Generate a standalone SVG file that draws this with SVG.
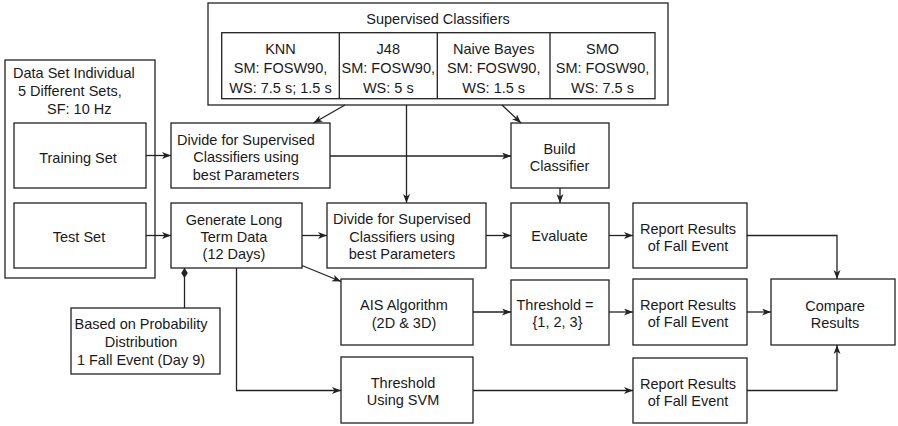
<svg xmlns="http://www.w3.org/2000/svg" width="898" height="426" viewBox="0 0 898 426">
  <style>
    .box { fill: #ffffff; stroke: #222222; stroke-width: 1.3; }
    .frame { fill: none; stroke: #222222; stroke-width: 1.3; }
    .lbl { font-family: "Liberation Sans", Arial, Helvetica, sans-serif; font-size: 14.5px; fill: #1a1a1a; text-anchor: middle; }
    .lbl-l { font-family: "Liberation Sans", Arial, Helvetica, sans-serif; font-size: 14.5px; fill: #1a1a1a; text-anchor: start; }
    .wire { fill: none; stroke: #222222; stroke-width: 1.3; }
    .arrow { marker-end: url(#head); }
  </style>
  <defs>
    <marker id="head" markerUnits="userSpaceOnUse" markerWidth="10" markerHeight="8" refX="9" refY="3.5" orient="auto">
      <path d="M0,0 L9,3.5 L0,7 L2.5,3.5 z" fill="#222222"/>
    </marker>
    <marker id="diamond" markerUnits="userSpaceOnUse" markerWidth="12" markerHeight="8" refX="10" refY="3.3" orient="auto">
      <path d="M0,3.3 L5,0 L10,3.3 L5,6.6 z" fill="#222222"/>
    </marker>
  </defs>

  <rect width="898" height="426" fill="#ffffff"/>

  <!-- classifier panel -->
  <g id="supervised-classifiers">
    <rect class="frame" x="208" y="3" width="460" height="102"/>
    <text class="lbl" x="438" y="23.5">Supervised Classifiers</text>
    <rect class="frame" x="221.7" y="32.7" width="433.3" height="66"/>
    <line class="wire" x1="339.3" y1="32.7" x2="339.3" y2="98.7"/>
    <line class="wire" x1="437.3" y1="32.7" x2="437.3" y2="98.7"/>
    <line class="wire" x1="550" y1="32.7" x2="550" y2="98.7"/>
    <g id="knn">
      <text class="lbl" x="280.5" y="53.5">KNN</text>
      <text class="lbl" x="280.5" y="73">SM: FOSW90,</text>
      <text class="lbl" x="280.5" y="92.5">WS: 7.5 s; 1.5 s</text>
    </g>
    <g id="j48">
      <text class="lbl" x="388.3" y="53.5">J48</text>
      <text class="lbl" x="388.3" y="73">SM: FOSW90,</text>
      <text class="lbl" x="388.3" y="92.5">WS: 5 s</text>
    </g>
    <g id="naive-bayes">
      <text class="lbl" x="493.7" y="53.5">Naive Bayes</text>
      <text class="lbl" x="493.7" y="73">SM: FOSW90,</text>
      <text class="lbl" x="493.7" y="92.5">WS: 1.5 s</text>
    </g>
    <g id="smo">
      <text class="lbl" x="602.5" y="53.5">SMO</text>
      <text class="lbl" x="602.5" y="73">SM: FOSW90,</text>
      <text class="lbl" x="602.5" y="92.5">WS: 7.5 s</text>
    </g>
  </g>

  <!-- data set panel -->
  <g id="data-set">
    <rect class="frame" x="5" y="60" width="150" height="218"/>
    <text class="lbl-l" x="13" y="78">Data Set Individual</text>
    <text class="lbl-l" x="18" y="96">5 Different Sets,</text>
    <text class="lbl-l" x="47" y="113.5">SF: 10 Hz</text>
  </g>
  <g id="training-set">
    <rect class="box" x="14" y="123" width="132" height="65"/>
    <text class="lbl" x="78" y="162.5">Training Set</text>
  </g>
  <g id="test-set">
    <rect class="box" x="14" y="203" width="132" height="65"/>
    <text class="lbl" x="79" y="242">Test Set</text>
  </g>

  <g id="divide-train">
    <rect class="box" x="171" y="123" width="159" height="65"/>
    <text class="lbl" x="246" y="144.5">Divide for Supervised</text>
    <text class="lbl" x="246" y="162">Classifiers using</text>
    <text class="lbl" x="246" y="179.5">best Parameters</text>
  </g>
  <g id="generate">
    <rect class="box" x="171" y="203" width="131" height="65"/>
    <text class="lbl" x="234" y="225">Generate Long</text>
    <text class="lbl" x="234" y="242">Term Data</text>
    <text class="lbl" x="234" y="259">(12 Days)</text>
  </g>
  <g id="divide-test">
    <rect class="box" x="327" y="203" width="159" height="65"/>
    <text class="lbl" x="402" y="224">Divide for Supervised</text>
    <text class="lbl" x="402" y="241.5">Classifiers using</text>
    <text class="lbl" x="402" y="259">best Parameters</text>
  </g>
  <g id="build-classifier">
    <rect class="box" x="511" y="123" width="98" height="65"/>
    <text class="lbl" x="559.5" y="153.5">Build</text>
    <text class="lbl" x="559.5" y="170.5">Classifier</text>
  </g>
  <g id="evaluate">
    <rect class="box" x="511" y="203" width="98" height="65"/>
    <text class="lbl" x="559.5" y="241">Evaluate</text>
  </g>
  <g id="report-1">
    <rect class="box" x="633" y="203" width="114" height="65"/>
    <text class="lbl" x="688" y="233.5">Report Results</text>
    <text class="lbl" x="688" y="250.5">of Fall Event</text>
  </g>
  <g id="ais">
    <rect class="box" x="341" y="279" width="132" height="66"/>
    <text class="lbl" x="404" y="310">AIS Algorithm</text>
    <text class="lbl" x="404" y="328">(2D &amp; 3D)</text>
  </g>
  <g id="threshold-set">
    <rect class="box" x="511" y="280" width="98" height="65"/>
    <text class="lbl" x="555" y="310">Threshold =</text>
    <text class="lbl" x="557.5" y="327">{1, 2, 3}</text>
  </g>
  <g id="report-2">
    <rect class="box" x="633" y="279" width="114" height="66"/>
    <text class="lbl" x="688" y="310">Report Results</text>
    <text class="lbl" x="688" y="327">of Fall Event</text>
  </g>
  <g id="compare">
    <rect class="box" x="771" y="279" width="124" height="66"/>
    <text class="lbl" x="835" y="311">Compare</text>
    <text class="lbl" x="835" y="328">Results</text>
  </g>
  <g id="probability">
    <rect class="box" x="71" y="308" width="149" height="66"/>
    <text class="lbl" x="141" y="329">Based on Probability</text>
    <text class="lbl" x="141" y="347">Distribution</text>
    <text class="lbl" x="141" y="364.5">1 Fall Event (Day 9)</text>
  </g>
  <g id="threshold-svm">
    <rect class="box" x="341" y="357" width="132" height="66"/>
    <text class="lbl" x="403" y="388">Threshold</text>
    <text class="lbl" x="403" y="405">Using SVM</text>
  </g>
  <g id="report-3">
    <rect class="box" x="633" y="358" width="114" height="65"/>
    <text class="lbl" x="688" y="388.5">Report Results</text>
    <text class="lbl" x="688" y="405.5">of Fall Event</text>
  </g>

  <!-- connectors -->
  <g id="connectors">
    <path class="wire arrow" d="M146,155.5 H171"/>
    <path class="wire arrow" d="M146,235.5 H171"/>
    <path class="wire arrow" d="M345,105 L313.5,123"/>
    <path class="wire arrow" d="M406.5,105 V203"/>
    <path class="wire arrow" d="M502,105 L521,123"/>
    <path class="wire arrow" d="M330,156 H511"/>
    <path class="wire arrow" d="M560,188 V203"/>
    <path class="wire arrow" d="M302,235.5 H327"/>
    <path class="wire arrow" d="M486,235.5 H511"/>
    <path class="wire arrow" d="M609,235.5 H633"/>
    <path class="wire arrow" d="M302,265.5 L341,281.5"/>
    <path class="wire arrow" d="M236.5,268 V390.5 H341"/>
    <path class="wire" d="M184.5,308 V268" marker-end="url(#diamond)"/>
    <path class="wire arrow" d="M473,312 H511"/>
    <path class="wire arrow" d="M609,312 H633"/>
    <path class="wire arrow" d="M747,312 H771"/>
    <path class="wire arrow" d="M473,390.5 H633"/>
    <path class="wire arrow" d="M747,235.5 H837 V279"/>
    <path class="wire arrow" d="M747,390.5 H837 V345"/>
  </g>
</svg>
